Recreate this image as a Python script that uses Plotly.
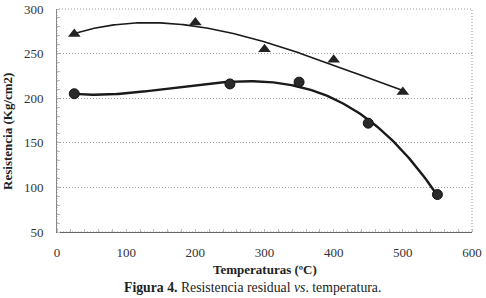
import numpy as np
import plotly.graph_objects as go

tri_x = [25, 200, 300, 400, 500]
tri_y = [272, 285, 255, 243, 207]
cir_x = [25, 250, 350, 450, 550]
cir_y = [205, 216, 218, 172, 92]

x_ticks = [0, 100, 200, 300, 400, 500, 600]
y_ticks = [50, 100, 150, 200, 250, 300]

dark = "#1a1a1a"
fig = go.Figure()

# polynomial trendlines (fitted to the data)
pt = np.polyfit(tri_x, tri_y, 3)
xt = np.linspace(min(tri_x), max(tri_x), 200)
fig.add_trace(go.Scatter(x=xt, y=np.polyval(pt, xt), mode="lines",
                         line=dict(color=dark, width=1.6), hoverinfo="skip"))
pc = np.polyfit(cir_x, cir_y, 3)
xc = np.linspace(min(cir_x), max(cir_x), 200)
fig.add_trace(go.Scatter(x=xc, y=np.polyval(pc, xc), mode="lines",
                         line=dict(color=dark, width=2.4), hoverinfo="skip"))

fig.add_trace(go.Scatter(x=tri_x, y=tri_y, mode="markers",
                         marker=dict(symbol="triangle-up", size=11, color="#222")))
fig.add_trace(go.Scatter(x=cir_x, y=cir_y, mode="markers",
                         marker=dict(symbol="circle", size=10, color="#2a2a2a",
                                     line=dict(color="#111", width=1))))

fig.add_shape(type="rect", xref="paper", yref="paper", x0=0, x1=1, y0=0, y1=1,
              line=dict(color="#999", width=1, dash="1px,2px"), layer="below")

font = "Liberation Serif"
fig.update_layout(
    width=486, height=298,
    margin=dict(l=57, r=14, t=9, b=66, autoexpand=False),
    paper_bgcolor="white", plot_bgcolor="white",
    showlegend=False,
    font=dict(family=font, size=13, color="#333"),
    xaxis=dict(range=[0, 600], tickvals=x_ticks, showgrid=False, zeroline=False,
               showline=True, linecolor="#666", linewidth=1, automargin=False,
               ticks="", tickfont=dict(family=font, size=13, color="#333"),
               ticklabelstandoff=8,
               minor=dict(ticks="inside", ticklen=3, tickcolor="#bbb", dtick=20)),
    yaxis=dict(range=[50, 300], tickvals=y_ticks, showgrid=True,
               gridcolor="#999", griddash="1px,2px", gridwidth=1, zeroline=False,
               showline=True, linecolor="#888", linewidth=1, automargin=False,
               ticks="", tickfont=dict(family=font, size=13, color="#333"),
               ticklabelstandoff=10,
               minor=dict(ticks="inside", ticklen=3, tickcolor="#bbb", dtick=10, showgrid=False)),
)

fig.add_annotation(xref="paper", yref="paper", x=0.501, y=-0.170, xanchor="center",
                   yanchor="middle", showarrow=False,
                   text="<b>Temperaturas (ºC)</b>",
                   font=dict(size=13, color="#222", family=font))
fig.add_annotation(xref="paper", yref="paper", x=-0.118, y=0.449, xanchor="center",
                   yanchor="middle", showarrow=False, textangle=-90,
                   text="<b>Resistencia (Kg/cm2)</b>",
                   font=dict(size=13, color="#222", family=font))
fig.add_annotation(xref="paper", yref="paper", x=0.472, y=-0.247, xanchor="center",
                   yanchor="middle", showarrow=False,
                   text="<b>Figura 4.</b> Resistencia residual <i>vs</i>. temperatura.",
                   font=dict(size=13.75, color="#222", family=font))

fig.write_html("out.html", config={"displayModeBar": False},
               post_script="document.body.style.margin='0';")
